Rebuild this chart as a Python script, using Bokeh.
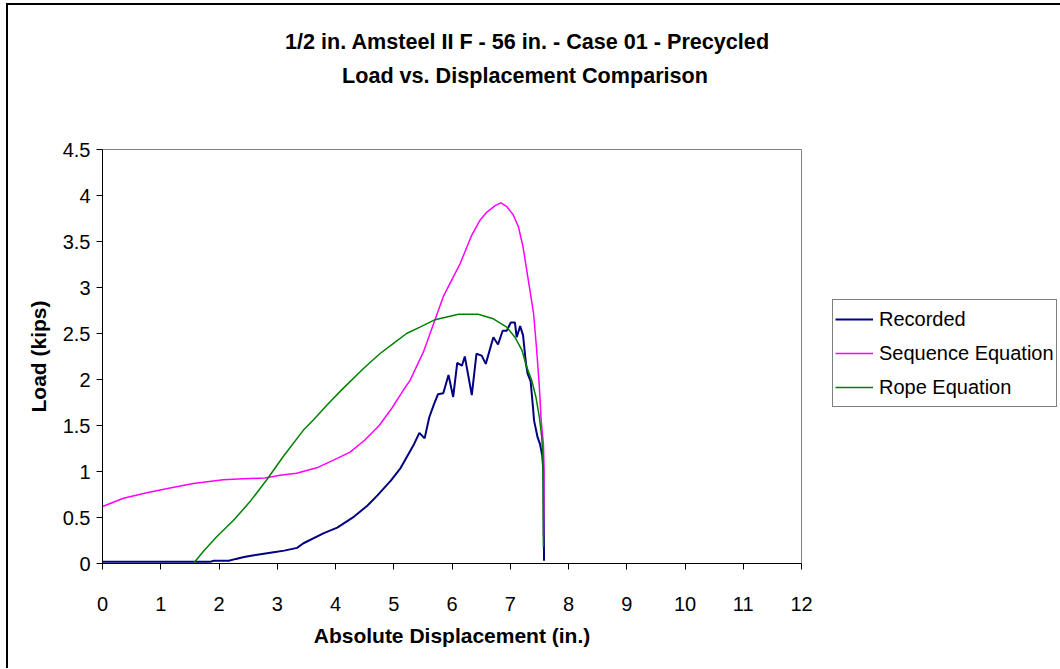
from bokeh.plotting import figure
from bokeh.models import Range1d, FixedTicker, Legend, LegendItem, Title
from bokeh.embed import file_html
from bokeh.resources import INLINE

# ---------------- data ----------------
title_line1 = "1/2 in. Amsteel II F - 56 in. - Case 01 - Precycled"
title_line2 = "Load vs. Displacement Comparison"
x_label = "Absolute Displacement (in.)"
y_label = "Load (kips)"

x_ticks = [0, 1, 2, 3, 4, 5, 6, 7, 8, 9, 10, 11, 12]
y_ticks = [0, 0.5, 1, 1.5, 2, 2.5, 3, 3.5, 4, 4.5]
y_tick_labels = ["0", "0.5", "1", "1.5", "2", "2.5", "3", "3.5", "4", "4.5"]

rec_x = [0, 1.0, 1.86, 1.91, 2.17, 2.29, 2.43, 2.6, 2.91, 3.12, 3.34, 3.45, 3.8, 4.03,
         4.32, 4.55, 4.72, 4.95, 5.12, 5.35, 5.44, 5.53, 5.61, 5.69, 5.76, 5.85, 5.94,
         6.02, 6.09, 6.17, 6.22, 6.34, 6.42, 6.51, 6.58, 6.71, 6.79, 6.87, 6.94, 7.01,
         7.08, 7.11, 7.17, 7.22, 7.27, 7.3, 7.35, 7.38, 7.41, 7.47, 7.51, 7.55, 7.57, 7.58]
rec_y = [0.02, 0.02, 0.02, 0.03, 0.03, 0.05, 0.07, 0.09, 0.12, 0.14, 0.17, 0.22, 0.33, 0.39,
         0.51, 0.63, 0.74, 0.9, 1.04, 1.30, 1.42, 1.36, 1.59, 1.73, 1.84, 1.85, 2.05,
         1.81, 2.18, 2.15, 2.25, 1.83, 2.28, 2.26, 2.17, 2.46, 2.38, 2.53, 2.53, 2.62,
         2.62, 2.46, 2.58, 2.48, 2.17, 2.06, 1.98, 1.77, 1.55, 1.37, 1.30, 1.17, 0.99, 0.03]

seq_x = [0, 0.36, 0.76, 1.16, 1.56, 2.07, 2.42, 2.79, 3.05, 3.33, 3.68, 4.02, 4.25, 4.5,
         4.75, 4.97, 5.16, 5.28, 5.51, 5.85, 6.14, 6.34, 6.48, 6.6, 6.74, 6.84, 6.94,
         7.05, 7.14, 7.22, 7.31, 7.4, 7.45, 7.5, 7.53, 7.57, 7.58, 7.57]
seq_y = [0.62, 0.71, 0.77, 0.82, 0.87, 0.91, 0.92, 0.93, 0.96, 0.98, 1.04, 1.14, 1.21, 1.34,
         1.50, 1.69, 1.88, 1.99, 2.30, 2.90, 3.26, 3.57, 3.73, 3.82, 3.89, 3.92, 3.88,
         3.79, 3.66, 3.44, 3.08, 2.72, 2.35, 1.92, 1.56, 1.29, 1.05, 0.29]

rope_x = [1.56, 1.73, 1.96, 2.25, 2.53, 2.82, 3.1, 3.45, 3.62, 3.85, 4.11, 4.48, 4.76, 4.99,
          5.22, 5.45, 5.71, 5.91, 6.11, 6.45, 6.71, 6.94, 7.08, 7.2, 7.28, 7.37, 7.44,
          7.5, 7.54, 7.56, 7.57]
rope_y = [0, 0.13, 0.29, 0.47, 0.67, 0.91, 1.16, 1.45, 1.56, 1.72, 1.89, 2.12, 2.28, 2.39,
          2.5, 2.57, 2.65, 2.68, 2.71, 2.71, 2.66, 2.57, 2.46, 2.32, 2.14, 1.99, 1.81,
          1.59, 1.38, 1.16, 0.18]

series_names = ["Recorded", "Sequence Equation", "Rope Equation"]
series_colors = ["#000080", "#FF00FF", "#008000"]

FONT = "Liberation Sans"

p = figure(
    frame_width=699, frame_height=414,
    min_border_left=94, min_border_right=258, min_border_top=144, min_border_bottom=105,
    x_range=Range1d(0, 12), y_range=Range1d(0, 4.5),
    output_backend="svg", toolbar_location=None,
    background_fill_color="white", border_fill_color="white",
)
p.styles = {"margin-left": "6px", "margin-top": "3px",
            "border-left": "2px solid black", "border-top": "2px solid black",
            "border-right": "0px", "border-bottom": "0px"}

p.xgrid.visible = False
p.ygrid.visible = False
p.outline_line_color = "#808080"
p.outline_line_width = 1

for ax in (p.xaxis[0], p.yaxis[0]):
    ax.axis_line_color = "black"
    ax.major_tick_line_color = "black"
    ax.major_tick_in = 0
    ax.major_tick_out = 6
    ax.minor_tick_line_color = None
    ax.major_label_text_font = FONT
    ax.major_label_text_font_size = "20px"
    ax.major_label_text_color = "black"
    ax.axis_label_text_font = FONT
    ax.axis_label_text_font_size = "21px"
    ax.axis_label_text_font_style = "bold"
    ax.axis_label_text_color = "black"

p.xaxis.ticker = FixedTicker(ticks=x_ticks)
p.yaxis.ticker = FixedTicker(ticks=y_ticks)
p.yaxis.major_label_overrides = {v: s for v, s in zip(y_ticks, y_tick_labels)}
p.xaxis.axis_label = x_label
p.yaxis.axis_label = y_label
p.xaxis.major_label_standoff = 27
p.yaxis.major_label_standoff = 6
p.xaxis.axis_label_standoff = 10
p.yaxis.axis_label_standoff = 10

r1 = p.line(rec_x, rec_y, line_color=series_colors[0], line_width=2)
r2 = p.line(seq_x, seq_y, line_color=series_colors[1], line_width=1.5)
r3 = p.line(rope_x, rope_y, line_color=series_colors[2], line_width=1.5)

legend = Legend(
    items=[LegendItem(label=n, renderers=[r]) for n, r in zip(series_names, [r1, r2, r3])],
    location=(31, 156),
    label_text_font=FONT, label_text_font_size="20px", label_text_color="black",
    glyph_width=38, glyph_height=20, label_height=34, label_standoff=6,
    padding=2, spacing=0, margin=0,
    border_line_color="black", border_line_width=1,
    background_fill_color="white", background_fill_alpha=1,
)
p.add_layout(legend, "right")

# titles: the one added first sits closest to the plot frame
p.add_layout(Title(text=" ", text_font_size="1px", standoff=55), "above")  # spacer
p.add_layout(Title(text=title_line2, align="left", offset=239.5, standoff=7,
                   text_font=FONT, text_font_size="21.6px", text_font_style="bold",
                   text_color="black"), "above")
p.add_layout(Title(text=title_line1, align="left", offset=182.5, standoff=8,
                   text_font=FONT, text_font_size="21.6px", text_font_style="bold",
                   text_color="black"), "above")

open("out.html", "w").write(file_html(p, INLINE))
